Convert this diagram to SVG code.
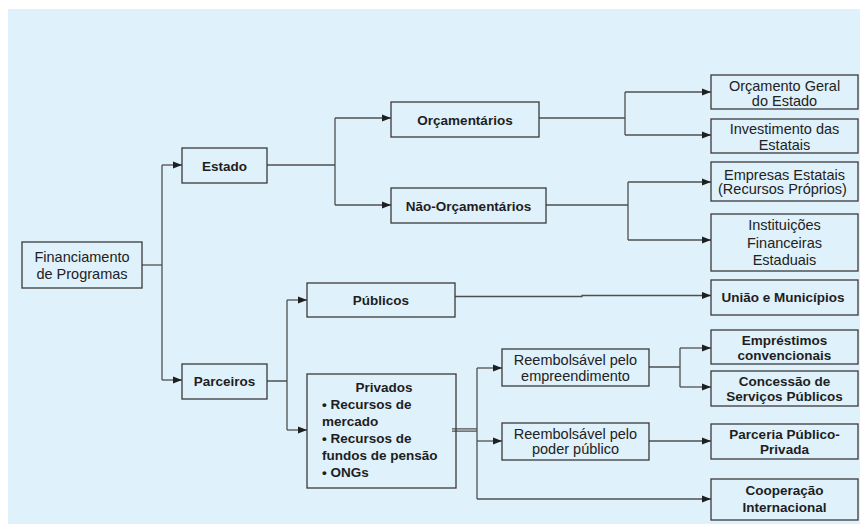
<svg xmlns="http://www.w3.org/2000/svg" width="860" height="524" viewBox="0 0 860 524">
  <defs>
    <marker id="arrow" viewBox="0 0 10 8" refX="10" refY="4" markerWidth="9" markerHeight="8" markerUnits="userSpaceOnUse" orient="auto">
      <path d="M0,0 L10,4 L0,8 Z" fill="#1f1f1f"/>
    </marker>
    <style>
      .box { fill: none; stroke: #3a3a3a; stroke-width: 1.3; }
      .t { font-family: "Liberation Sans", Arial, sans-serif; font-size: 14.5px; fill: #222; text-anchor: middle; }
      .b { font-family: "Liberation Sans", Arial, sans-serif; font-size: 13.5px; font-weight: bold; fill: #1e1e1e; text-anchor: middle; }
      .bl { text-anchor: start; }
      .wire { fill: none; stroke: #4f4f4f; stroke-width: 1.3; }
      .arr { marker-end: url(#arrow); }
    </style>
  </defs>

  <!-- panel background -->
  <rect x="8" y="9" width="852" height="515" fill="#dff1fb"/>

  <!-- connectors -->
  <g id="connectors">
    <!-- Financiamento split -->
    <path class="wire" d="M142,265 H162"/>
    <path class="wire" d="M162,165 V380"/>
    <path class="wire arr" d="M162,165 H182"/>
    <path class="wire arr" d="M162,380 H182"/>

    <!-- Estado split -->
    <path class="wire" d="M267,165 H335 M335,118 V205"/>
    <path class="wire arr" d="M335,118 H391"/>
    <path class="wire arr" d="M335,205 H391"/>

    <!-- Orçamentários split -->
    <path class="wire" d="M539,118 H625 M625,92 V135"/>
    <path class="wire arr" d="M625,92 H711"/>
    <path class="wire arr" d="M625,135 H711"/>

    <!-- Não-Orçamentários split -->
    <path class="wire" d="M546,205 H628 M628,182 V240"/>
    <path class="wire arr" d="M628,182 H711"/>
    <path class="wire arr" d="M628,240 H711"/>

    <!-- Parceiros split -->
    <path class="wire" d="M267,381 H287 M287,300 V430"/>
    <path class="wire arr" d="M287,300 H307"/>
    <path class="wire arr" d="M287,430 H307"/>

    <!-- Públicos to União e Municípios -->
    <path class="wire arr" d="M455,296.5 H582 V295.5 H711"/>

    <!-- Privados split (double stub) -->
    <path class="wire" d="M452,428.8 H477 M452,431.2 H477"/>
    <path class="wire" d="M477,368 V499"/>
    <path class="wire arr" d="M477,368 H502"/>
    <path class="wire arr" d="M477,441 H502"/>
    <path class="wire arr" d="M477,499 H711"/>

    <!-- Reembolsável pelo empreendimento split -->
    <path class="wire" d="M649,367 H680 M680,348 V387"/>
    <path class="wire arr" d="M680,348 H711"/>
    <path class="wire arr" d="M680,387 H711"/>

    <!-- Reembolsável pelo poder público -->
    <path class="wire arr" d="M649,441 H711"/>
  </g>

  <g id="financiamento">
    <rect class="box" x="22" y="242" width="120" height="46"/>
    <text class="t" x="82" y="262">Financiamento</text>
    <text class="t" x="82" y="279">de Programas</text>
  </g>

  <g id="estado">
    <rect class="box" x="182" y="148" width="85" height="35"/>
    <text class="b" x="224.5" y="170.5">Estado</text>
  </g>

  <g id="orcamentarios">
    <rect class="box" x="391" y="102" width="148" height="35"/>
    <text class="b" x="465" y="124.5">Orçamentários</text>
  </g>

  <g id="nao-orcamentarios">
    <rect class="box" x="391" y="188" width="155" height="35"/>
    <text class="b" x="468.5" y="210.5">Não-Orçamentários</text>
  </g>

  <g id="orcamento-geral">
    <rect class="box" x="711" y="75" width="147" height="34"/>
    <text class="t" x="784.5" y="90.5">Orçamento Geral</text>
    <text class="t" x="784.5" y="105.5">do Estado</text>
  </g>

  <g id="investimento">
    <rect class="box" x="711" y="119" width="147" height="34"/>
    <text class="t" x="784.5" y="134">Investimento das</text>
    <text class="t" x="784.5" y="149.5">Estatais</text>
  </g>

  <g id="empresas-estatais">
    <rect class="box" x="711" y="162" width="147" height="39"/>
    <text class="t" x="784.5" y="179.5">Empresas Estatais</text>
    <text class="t" x="782.5" y="194">(Recursos Próprios)</text>
  </g>

  <g id="instituicoes">
    <rect class="box" x="711" y="214" width="147" height="57"/>
    <text class="t" x="784.5" y="230">Instituições</text>
    <text class="t" x="784.5" y="247.5">Financeiras</text>
    <text class="t" x="784.5" y="265">Estaduais</text>
  </g>

  <g id="parceiros">
    <rect class="box" x="182" y="364" width="85" height="35"/>
    <text class="b" x="224.5" y="386">Parceiros</text>
  </g>

  <g id="publicos">
    <rect class="box" x="307" y="283" width="148" height="34"/>
    <text class="b" x="381" y="304.5">Públicos</text>
  </g>

  <g id="privados">
    <rect class="box" x="307" y="374" width="149" height="114"/>
    <text class="b" x="384" y="392">Privados</text>
    <text class="b bl" x="322" y="409">• Recursos de</text>
    <text class="b bl" x="322" y="426">mercado</text>
    <text class="b bl" x="322" y="443">• Recursos de</text>
    <text class="b bl" x="322" y="460">fundos de pensão</text>
    <text class="b bl" x="322" y="477">• ONGs</text>
  </g>

  <g id="uniao-municipios">
    <rect class="box" x="711" y="280" width="147" height="35"/>
    <text class="b" x="783" y="302">União e Municípios</text>
  </g>

  <g id="reembolsavel-empreendimento">
    <rect class="box" x="502" y="349" width="147" height="37"/>
    <text class="t" x="575.5" y="365">Reembolsável pelo</text>
    <text class="t" x="575.5" y="380.5">empreendimento</text>
  </g>

  <g id="reembolsavel-poder-publico">
    <rect class="box" x="502" y="423" width="147" height="37"/>
    <text class="t" x="575.5" y="438.5">Reembolsável pelo</text>
    <text class="t" x="575.5" y="454">poder público</text>
  </g>

  <g id="emprestimos">
    <rect class="box" x="711" y="330" width="147" height="34"/>
    <text class="b" x="784.5" y="345">Empréstimos</text>
    <text class="b" x="784.5" y="360">convencionais</text>
  </g>

  <g id="concessao">
    <rect class="box" x="711" y="371" width="147" height="35"/>
    <text class="b" x="784.5" y="385.5">Concessão de</text>
    <text class="b" x="784.5" y="401">Serviços Públicos</text>
  </g>

  <g id="ppp">
    <rect class="box" x="711" y="424" width="147" height="35"/>
    <text class="b" x="784.5" y="438.5">Parceria Público-</text>
    <text class="b" x="784.5" y="453.5">Privada</text>
  </g>

  <g id="cooperacao">
    <rect class="box" x="711" y="479" width="147" height="41"/>
    <text class="b" x="784.5" y="495">Cooperação</text>
    <text class="b" x="784.5" y="512">Internacional</text>
  </g>
</svg>
